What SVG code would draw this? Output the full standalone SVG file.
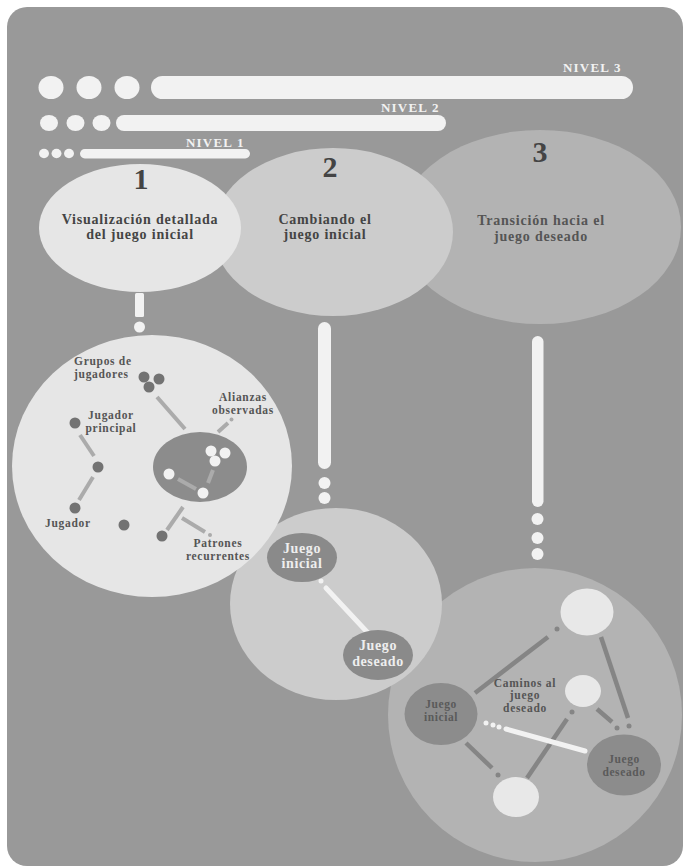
<svg xmlns="http://www.w3.org/2000/svg" width="686" height="868" viewBox="0 0 686 868">
<style>
.t{font-family:"Liberation Serif","Times New Roman",serif;font-weight:bold}
.num{font-size:30px;fill:#444;text-anchor:middle}
.head{font-size:14px;fill:#444;text-anchor:middle;letter-spacing:0.8px}
.head3{font-size:14px;fill:#555;text-anchor:middle;letter-spacing:0.8px}
.lvl{font-size:13px;fill:#f2f2f2;letter-spacing:1.2px}
.lab{font-size:11.5px;fill:#555;letter-spacing:0.7px}
.labm{font-size:11.5px;fill:#555;letter-spacing:0.7px;text-anchor:middle}
.nodew{font-size:14px;fill:#eeeeee;text-anchor:middle;letter-spacing:0.6px}
.nodeg{font-size:11.5px;fill:#5a5a5a;text-anchor:middle;letter-spacing:0.6px}
.bar{fill:#f2f2f2}
.dk{fill:#737373}
.wd{fill:#f2f2f2}
.lc{fill:#e8e8e8}
.ln1{stroke:#ababab;stroke-width:4;fill:none}
.ln3{stroke:#858585;stroke-width:4.5;fill:none}
.lnw{stroke:#f2f2f2;stroke-width:5;fill:none;stroke-linecap:round}
</style>
<rect x="0" y="0" width="686" height="868" fill="#ffffff"/>
<rect x="7" y="7" width="676" height="859" rx="20" fill="#999999"/>

<g id="levels">
  <g id="nivel-3">
    <ellipse class="bar" cx="51" cy="87.5" rx="12.5" ry="11.5"/>
    <ellipse class="bar" cx="89" cy="87.5" rx="12.5" ry="11.5"/>
    <ellipse class="bar" cx="127" cy="87.5" rx="12.5" ry="11.5"/>
    <rect class="bar" x="151" y="76" width="482" height="23" rx="11.5"/>
    <text class="t lvl" x="563" y="72">NIVEL 3</text>
  </g>
  <g id="nivel-2">
    <ellipse class="bar" cx="49" cy="123" rx="9" ry="8"/>
    <ellipse class="bar" cx="75.5" cy="123" rx="9" ry="8"/>
    <ellipse class="bar" cx="101.5" cy="123" rx="9" ry="8"/>
    <rect class="bar" x="116" y="115" width="330" height="16" rx="8"/>
    <text class="t lvl" x="381" y="112">NIVEL 2</text>
  </g>
  <g id="nivel-1">
    <ellipse class="bar" cx="44" cy="153.5" rx="5" ry="4.75"/>
    <ellipse class="bar" cx="56.5" cy="153.5" rx="5" ry="4.75"/>
    <ellipse class="bar" cx="69" cy="153.5" rx="5" ry="4.75"/>
    <rect class="bar" x="80" y="149" width="170" height="9.5" rx="4.75"/>
    <text class="t lvl" x="186" y="147">NIVEL 1</text>
  </g>
</g>

<g id="etapa-3">
  <ellipse cx="540" cy="227" rx="141" ry="97" fill="#b3b3b3"/>
  <text class="t num" x="540" y="162">3</text>
  <text class="t head3" x="541" y="225">Transición hacia el</text>
  <text class="t head3" x="541" y="241">juego deseado</text>
</g>
<g id="etapa-2">
  <ellipse cx="333" cy="232" rx="120" ry="84" fill="#cccccc"/>
  <text class="t num" x="330" y="177">2</text>
  <text class="t head" x="325" y="224">Cambiando el</text>
  <text class="t head" x="325" y="239">juego inicial</text>
</g>
<g id="etapa-1">
  <ellipse cx="140" cy="228" rx="101" ry="64" fill="#e6e6e6"/>
  <text class="t num" x="141" y="189">1</text>
  <text class="t head" x="140" y="224">Visualización detallada</text>
  <text class="t head" x="140" y="239">del juego inicial</text>
</g>

<g id="panel-3">
  <circle cx="535" cy="715" r="147" fill="#b3b3b3"/>
</g>
<g id="panel-2">
  <ellipse cx="336" cy="604" rx="106" ry="96" fill="#cccccc"/>
</g>
<g id="panel-1">
  <ellipse cx="152" cy="466" rx="140" ry="131" fill="#e6e6e6"/>
</g>

<g id="alianzas-cluster">
  <ellipse cx="200" cy="467" rx="47" ry="35" fill="#8c8c8c"/>
</g>

<g id="connectors">
  <rect class="bar" x="135" y="293" width="9" height="24" rx="1.5"/>
  <circle class="bar" cx="139.5" cy="327" r="5.5"/>
  <rect class="bar" x="318" y="322" width="13" height="147" rx="6.5"/>
  <circle class="bar" cx="324.5" cy="483" r="6"/>
  <circle class="bar" cx="324.5" cy="498" r="6"/>
  <rect class="bar" x="532" y="336" width="11.5" height="171" rx="5.75"/>
  <circle class="bar" cx="537.5" cy="519" r="6"/>
  <circle class="bar" cx="537.5" cy="538" r="6"/>
  <circle class="bar" cx="537.5" cy="554" r="6"/>

  <line class="ln1" x1="157" y1="397" x2="185" y2="429"/>
  <line class="ln1" x1="218" y1="432" x2="228" y2="423"/>
  <circle cx="231.5" cy="419.5" r="2" fill="#ababab"/>
  <line class="ln1" x1="80" y1="435" x2="94" y2="456"/>
  <line class="ln1" x1="93" y1="477" x2="79" y2="500"/>
  <line class="ln1" x1="178" y1="479" x2="196" y2="489"/>
  <line class="ln1" x1="213" y1="470" x2="208" y2="483"/>
  <line class="ln1" x1="183" y1="507" x2="167" y2="530"/>
  <line class="ln1" x1="182" y1="518" x2="205" y2="532"/>
  <circle cx="210" cy="535" r="2" fill="#ababab"/>

  <circle class="wd" cx="317" cy="576" r="2.5"/>
  <circle class="wd" cx="321" cy="581" r="2.5"/>
  <line class="lnw" x1="326" y1="588" x2="368" y2="633"/>

  <line class="ln3" x1="475" y1="693" x2="548" y2="637"/>
  <circle cx="557" cy="629" r="2.5" fill="#858585"/>
  <line class="ln3" x1="601" y1="637" x2="628" y2="718"/>
  <circle cx="629" cy="726" r="2.5" fill="#858585"/>
  <line class="ln3" x1="597" y1="709" x2="612" y2="722"/>
  <circle cx="617" cy="728" r="2.5" fill="#858585"/>
  <circle cx="572" cy="712" r="2.5" fill="#858585"/>
  <line class="ln3" x1="567" y1="719" x2="527" y2="778"/>
  <line class="ln3" x1="466" y1="743" x2="492" y2="768"/>
  <circle cx="498" cy="775" r="2.5" fill="#858585"/>
  <circle class="wd" cx="486" cy="723" r="2.5"/>
  <circle class="wd" cx="493" cy="725" r="2.5"/>
  <circle class="wd" cx="499" cy="727" r="2.5"/>
  <line class="lnw" x1="506" y1="729" x2="585" y2="751"/>
</g>

<g id="grupos-de-jugadores">
  <circle class="dk" cx="144" cy="377" r="5.5"/>
  <circle class="dk" cx="159" cy="379" r="5.5"/>
  <circle class="dk" cx="149" cy="387" r="5.5"/>
  <text class="t lab" x="74" y="365">Grupos de</text>
  <text class="t lab" x="74" y="378">jugadores</text>
</g>
<g id="jugador-principal">
  <circle class="dk" cx="75" cy="423" r="5.5"/>
  <text class="t labm" x="111" y="419">Jugador</text>
  <text class="t labm" x="111" y="432">principal</text>
</g>
<g id="jugador-medio">
  <circle class="dk" cx="98" cy="467" r="5.5"/>
</g>
<g id="jugador">
  <circle class="dk" cx="75" cy="508" r="5.5"/>
  <text class="t lab" x="45" y="527">Jugador</text>
</g>
<g id="jugador-suelto">
  <circle class="dk" cx="124" cy="525" r="5.5"/>
</g>
<g id="jugador-patron">
  <circle class="dk" cx="162" cy="536" r="5.5"/>
</g>
<g id="alianzas-observadas">
  <circle class="wd" cx="211" cy="451" r="5.5"/>
  <circle class="wd" cx="225" cy="453" r="5.5"/>
  <circle class="wd" cx="215" cy="461" r="5.5"/>
  <circle class="wd" cx="169" cy="474" r="5.5"/>
  <circle class="wd" cx="203" cy="493" r="5.5"/>
  <text class="t labm" x="243" y="401">Alianzas</text>
  <text class="t labm" x="243" y="414">observadas</text>
</g>
<g id="patrones-recurrentes">
  <text class="t labm" x="218" y="547">Patrones</text>
  <text class="t labm" x="218" y="560">recurrentes</text>
</g>

<g id="juego-inicial-2">
  <ellipse cx="302" cy="557.5" rx="35" ry="24.5" fill="#8a8a8a"/>
  <text class="t nodew" x="302" y="553">Juego</text>
  <text class="t nodew" x="302" y="568">inicial</text>
</g>
<g id="juego-deseado-2">
  <ellipse cx="378" cy="655" rx="35" ry="25" fill="#8a8a8a"/>
  <text class="t nodew" x="378" y="650">Juego</text>
  <text class="t nodew" x="378" y="666">deseado</text>
</g>

<g id="paso-superior">
  <ellipse class="lc" cx="587" cy="612" rx="26.5" ry="23.5"/>
</g>
<g id="paso-medio">
  <ellipse class="lc" cx="583" cy="691" rx="18" ry="16"/>
</g>
<g id="paso-inferior">
  <ellipse class="lc" cx="516" cy="797" rx="23" ry="20"/>
</g>
<g id="juego-inicial-3">
  <ellipse cx="441" cy="714" rx="36.5" ry="31" fill="#8c8c8c"/>
  <text class="t nodeg" x="441" y="708">Juego</text>
  <text class="t nodeg" x="441" y="721">inicial</text>
</g>
<g id="juego-deseado-3">
  <ellipse cx="624" cy="765" rx="37" ry="30.5" fill="#8c8c8c"/>
  <text class="t nodeg" x="624" y="763">Juego</text>
  <text class="t nodeg" x="624" y="776">deseado</text>
</g>
<g id="caminos">
  <text class="t labm" x="525" y="687">Caminos al</text>
  <text class="t labm" x="525" y="699">juego</text>
  <text class="t labm" x="525" y="712">deseado</text>
</g>
</svg>
